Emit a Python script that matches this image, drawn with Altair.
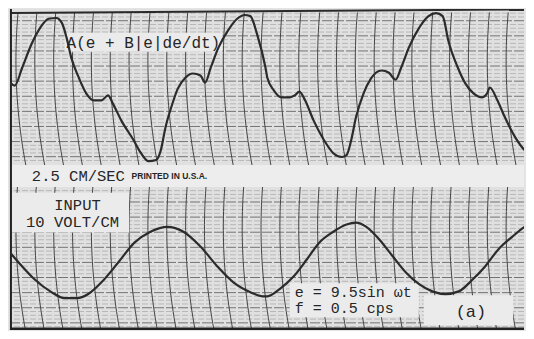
import altair as alt
import numpy as np
import pandas as pd

# ---- values read from the recording (time in s, deflection in cm of chart paper) ----
out_t = [0.00, 0.05, 0.13, 0.23, 0.32, 0.41, 0.49, 0.55, 0.60, 0.65, 0.73, 0.81, 0.89, 0.97,
         1.04, 1.09, 1.18, 1.31, 1.39, 1.47, 1.55, 1.60, 1.65, 1.71, 1.78, 1.86, 1.94, 2.02,
         2.07, 2.13, 2.21, 2.31, 2.41, 2.49, 2.55, 2.62, 2.71, 2.73, 2.80, 2.88, 2.97, 3.02,
         3.07, 3.13, 3.22, 3.33, 3.43, 3.52, 3.57, 3.62, 3.67, 3.75, 3.83, 3.94, 4.02, 4.09,
         4.15, 4.23, 4.34, 4.44, 4.52, 4.59, 4.65, 4.75, 4.83, 4.92, 5.01, 5.06, 5.09, 5.17,
         5.25, 5.36, 5.46, 5.54]
out_cm = [0.13, 0.05, 0.53, 1.16, 1.58, 1.82, 1.84, 1.71, 1.32, 0.79, 0.26, -0.16, -0.34, -0.34,
          -0.21, -0.42, -0.87, -1.39, -1.74, -1.95, -1.92, -1.66, -1.05, -0.53, -0.03, 0.26, 0.37, 0.32,
          0.13, 0.53, 1.05, 1.50, 1.82, 1.92, 1.89, 1.42, 0.53, 0.26, -0.08, -0.26, -0.26, -0.21,
          -0.11, -0.34, -0.87, -1.39, -1.74, -1.84, -1.79, -1.39, -0.79, -0.16, 0.24, 0.45, 0.39, 0.21,
          0.53, 1.05, 1.58, 1.89, 1.97, 1.89, 1.24, 0.53, 0.11, -0.16, -0.26, -0.16, 0.00, -0.34,
          -0.79, -1.32, -1.66, -1.79]

in_t = [0.00, 0.13, 0.26, 0.44, 0.58, 0.71, 0.83, 0.97, 1.15, 1.32, 1.49, 1.67, 1.84, 2.02,
        2.20, 2.37, 2.55, 2.68, 2.73, 2.86, 3.01, 3.15, 3.28, 3.43, 3.57, 3.67, 3.78, 3.92,
        4.06, 4.20, 4.34, 4.48, 4.62, 4.76, 4.91, 5.04, 5.18, 5.33, 5.46, 5.54]
in_volt = [2.1, -1.6, -5.0, -8.4, -10.0, -10.0, -8.9, -5.8, -0.5, 4.7, 7.6, 8.9, 7.6, 3.7,
           -1.6, -5.8, -8.4, -9.5, -9.5, -7.6, -4.2, 0.3, 4.7, 7.6, 9.5, 10.0, 8.9, 5.5,
           1.1, -3.2, -6.3, -8.2, -8.9, -8.2, -5.0, -1.6, 2.9, 6.3, 8.9, 10.0]

out_label = "A(e + B|e|de/dt)"
speed_label = "2.5 CM/SEC"
printed_label = "PRINTED IN U.S.A."
input_labels = ["INPUT", "10 VOLT/CM"]
eq_labels = ["e = 9.5sin \u03c9t", "f = 0.5 cps"]
tag_label = "(a)"

# ---- chart geometry ----
PX_S, PX_CM = 95.0, 38.0
W, H = 518, 323
XMAX = W / PX_S
Y0 = 8 / PX_CM
YMAX = Y0 + H / PX_CM
TOP_CENTER = 6.632       # cm, zero line of the upper channel
IN_BASE = 2.053          # cm, zero line of the input channel
VOLT_PER_CM = 10.0

xs = alt.Scale(domain=[0, XMAX], nice=False, zero=False)
ys = alt.Scale(domain=[Y0, YMAX], nice=False, zero=False)
X = lambda f: alt.X(f, type="quantitative", scale=xs, axis=None)
Y = lambda f: alt.Y(f, type="quantitative", scale=ys, axis=None)

out_df = pd.DataFrame({"t": out_t, "y": np.array(out_cm) + TOP_CENTER})
in_df = pd.DataFrame({"t": in_t, "y": IN_BASE + np.array(in_volt) / VOLT_PER_CM})

panels = pd.DataFrame({"t0": [0, 0], "t1": [XMAX, XMAX],
                       "y0": [4.579, Y0], "y1": [YMAX, 4.0]})
band = pd.DataFrame({"t0": [0], "t1": [XMAX], "y0": [4.0], "y1": [4.579]})
boxes = pd.DataFrame({"t0": [0.579, 0.0, 2.968, 4.389],
                      "t1": [2.253, 1.263, 4.337, 5.337],
                      "y0": [7.579, 2.789, 0.553, 0.342],
                      "y1": [8.079, 3.842, 1.447, 1.132]})

def hlines(lo, hi):
    return np.round(np.arange(np.ceil(lo * 10) / 10, hi, 0.1), 2)
hy = np.concatenate([hlines(4.62, 8.62), hlines(0.25, 3.98)])
h_df = pd.DataFrame({"y": hy, "major": (np.round(hy * 10) % 4 == 0)})

arcs = []
for panel, (lo, hi, yc) in enumerate([(4.579, 8.62, 7.342), (Y0, 4.0, 2.921)]):
    yy = np.linspace(lo, hi, 24)
    for k in range(28):
        base = 0.063 + 0.2 * k
        off = 0.0009 * ((yy - yc) * PX_CM) ** 2 / PX_S
        for i, (a, b) in enumerate(zip(yy, base + off)):
            arcs.append({"id": f"{panel}-{k}", "y": a, "t": b, "o": i})
arc_df = pd.DataFrame(arcs)

bg = alt.Chart(panels).mark_rect(color="#e0e0e0").encode(X("t0"), x2="t1", y=Y("y0"), y2="y1")
band_l = alt.Chart(band).mark_rect(color="#ededed").encode(X("t0"), x2="t1", y=Y("y0"), y2="y1")
h_minor = alt.Chart(h_df).transform_filter("!datum.major").mark_rule(
    color="#a6a6a6", strokeWidth=0.7, strokeDash=[6, 2]).encode(y=Y("y"))
h_major = alt.Chart(h_df).transform_filter("datum.major").mark_rule(
    color="#666666", strokeWidth=0.9, strokeDash=[10, 2]).encode(y=Y("y"))
arc_l = alt.Chart(arc_df).mark_line(color="#454545", strokeWidth=1.0, clip=True).encode(
    X("t"), Y("y"), detail="id:N", order="o:Q")
box_l = alt.Chart(boxes).mark_rect(color="#ebebeb").encode(X("t0"), x2="t1", y=Y("y0"), y2="y1")

frame = pd.DataFrame({"t": [0, XMAX], "y": [8.605, 8.70]})
top_border = alt.Chart(frame).mark_line(color="#2a2a2a", strokeWidth=2, clip=True).encode(X("t"), Y("y"))
bottom_border = alt.Chart(pd.DataFrame({"y": [0.245]})).mark_rule(
    color="#222222", strokeWidth=2.5).encode(y=Y("y"))
left_border = alt.Chart(pd.DataFrame({"t": [0.01]})).mark_rule(
    color="#222222", strokeWidth=2).encode(x=X("t"))

out_line = alt.Chart(out_df).mark_line(color="#2b2b2b", strokeWidth=2.2, clip=True,
                                       interpolate="monotone").encode(X("t"), Y("y"))
in_line = alt.Chart(in_df).mark_line(color="#2b2b2b", strokeWidth=2.2, clip=True,
                                     interpolate="monotone").encode(X("t"), Y("y"))

mono = "Courier New, Liberation Mono, monospace"
def label(text, t, y, size, align="left", font=mono, weight="normal", color="#262626"):
    return alt.Chart(pd.DataFrame({"s": [text]})).mark_text(
        font=font, fontSize=size, align=align, baseline="middle", fontWeight=weight,
        color=color).encode(x=alt.datum(t, scale=xs), y=alt.datum(y, scale=ys), text="s:N")

texts = [
    label(out_label, 0.60, 7.816, 16),
    label(speed_label, 0.232, 4.29, 15.5),
    label(printed_label, 1.29, 4.28, 8.5, font="Liberation Sans", weight="bold"),
    label(input_labels[0], 0.716, 3.53, 15.5, align="center"),
    label(input_labels[1], 0.663, 3.07, 15.5, align="center"),
    label(eq_labels[0], 3.02, 1.22, 15),
    label(eq_labels[1], 3.02, 0.80, 15),
    label(tag_label, 4.89, 0.684, 17, align="center"),
]

chart = alt.layer(
    bg, h_minor, h_major, arc_l, band_l, box_l, top_border, bottom_border, left_border,
    out_line, in_line, *texts
).properties(
    width=W, height=H, background="#e4e4e4", padding=0,
    autosize=alt.AutoSizeParams(type="fit", contains="padding")
).configure_view(stroke=None)

chart.save("out.html", embed_options={"renderer": "svg", "actions": False})
